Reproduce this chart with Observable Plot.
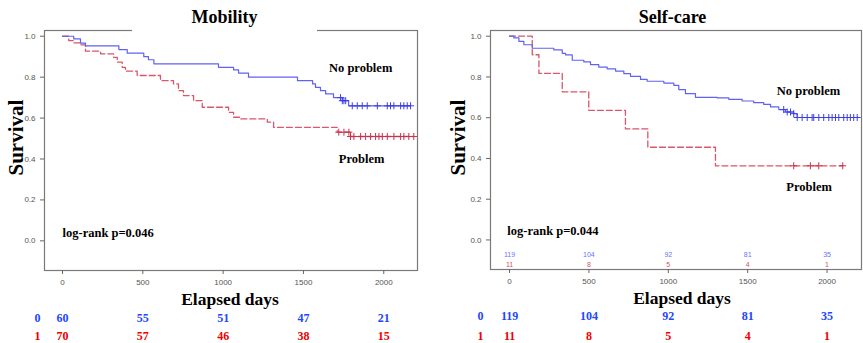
<!DOCTYPE html>
<html><head><meta charset="utf-8">
<script src="https://cdn.jsdelivr.net/npm/d3@7"></script>
<script src="https://cdn.jsdelivr.net/npm/@observablehq/plot@0.6"></script>
<style>
body{margin:0;background:#fff;}
#wrap{position:relative;width:863px;height:343px;overflow:hidden;background:#fff;}
.panel{position:absolute;top:0;}
.title{position:absolute;font-family:"Liberation Serif","Times New Roman",serif;font-weight:bold;font-size:18px;text-align:center;line-height:26px;color:#000;z-index:2;}
</style></head><body><div id="wrap"></div>
<script>
// ---------- data ----------
const riskTicks = [0, 500, 1000, 1500, 2000];
const yTicks = [0, 0.2, 0.4, 0.6, 0.8, 1.0];

// Mobility – No problem (group 0)
const mobNoDays = [0,70,112,143,351,403,506,535,569,971,1065,1096,1158,1463,1557,1575,1606,1638,1687,1742,1781,2167];
const mobNoSurv = [1.0,0.987,0.966,0.953,0.935,0.917,0.90,0.885,0.865,0.848,0.836,0.82,0.80,0.783,0.767,0.75,0.734,0.718,0.70,0.685,0.66,0.66];
const mobNoCensor = [1731,1742,1752,1763,1804,1835,1866,1897,1960,2022,2042,2063,2105,2125,2146,2167];
// Mobility – Problem (group 1)
const mobProbDays = [0,39,70,108,143,237,318,341,372,392,465,610,691,722,753,816,870,1034,1065,1108,1275,1314,1710,1793,2187];
const mobProbSurv = [1.0,0.979,0.968,0.958,0.927,0.914,0.897,0.873,0.848,0.829,0.808,0.783,0.767,0.734,0.71,0.685,0.653,0.628,0.604,0.596,0.58,0.555,0.531,0.51,0.51];
const mobProbCensor = [1720,1752,1783,1793,1814,1856,1887,1918,1949,1970,1991,2022,2063,2105,2125,2156,2187];
const mobRisk0 = [60, 55, 51, 47, 21];
const mobRisk1 = [70, 57, 46, 38, 15];

// Self-care – No problem (group 0)
const scNoDays = [0,27,59,90,143,279,332,353,395,468,510,562,615,668,720,762,825,867,972,1035,1066,1108,1171,1308,1381,1465,1538,1601,1644,1696,1738,1790,1812,2190];
const scNoSurv = [1.0,0.992,0.975,0.958,0.941,0.933,0.916,0.908,0.882,0.874,0.861,0.848,0.84,0.829,0.816,0.803,0.788,0.779,0.77,0.759,0.738,0.718,0.70,0.697,0.69,0.682,0.674,0.665,0.653,0.64,0.628,0.62,0.601,0.601];
const scNoCensor = [1727,1749,1770,1790,1812,1843,1875,1906,1916,1948,1979,2011,2032,2053,2074,2105,2127,2147,2168,2190];
// Self-care – Problem (group 1)
const scProbDays = [0,143,185,332,499,730,871,1297,2099];
const scProbSurv = [1.0,0.909,0.818,0.727,0.636,0.545,0.455,0.364,0.364];
const scProbCensor = [1790,1895,1948,2099];
const scRisk0 = [119, 104, 92, 81, 35];
const scRisk1 = [11, 8, 5, 4, 1];

// ---------- helpers ----------
const serif = "Liberation Serif, Times New Roman, serif";
const rows = (days, surv) => days.map((d, i) => ({day: d, s: surv[i]}));
const stepAt = (days, surv, t) => { let v = surv[0]; for (let i = 0; i < days.length; i++) if (days[i] <= t) v = surv[i]; return v; };
const cens = (days, surv, c) => c.map(t => ({day: t, s: stepAt(days, surv, t)}));
const risk = (arr) => riskTicks.map((t, i) => ({day: t, n: String(arr[i])}));

function panel(o) {
  const blue = "#6262f2", red = "#d9566b";
  const marks = [
    Plot.frame({stroke: "#7a7a7a", strokeWidth: 1.2}),
    Plot.axisY({ticks: yTicks, tickFormat: d3.format(".1f"), tickSize: 4, label: null, stroke: "#666"}),
    Plot.axisX({ticks: riskTicks, tickFormat: d3.format("d"), tickSize: 4, label: null, stroke: "#666"}),
    Plot.line(rows(o.d1, o.s1), {x: "day", y: "s", curve: "step-after", stroke: red, strokeWidth: 1.3, strokeDasharray: "6,3"}),
    Plot.line(rows(o.d0, o.s0), {x: "day", y: "s", curve: "step-after", stroke: blue, strokeWidth: 1.2}),
    Plot.dot(cens(o.d1, o.s1, o.c1), {x: "day", y: "s", symbol: "plus", r: 2.4, stroke: "#c8324c", strokeWidth: 1}),
    Plot.dot(cens(o.d0, o.s0, o.c0), {x: "day", y: "s", symbol: "plus", r: 2.4, stroke: "#3e3ee6", strokeWidth: 1}),
    Plot.text([o.logrank], {x: o.lrX, y: o.lrY, text: d => d, textAnchor: "start", fontFamily: serif, fontWeight: "bold", fontSize: 12.5, fill: "#000"}),
    Plot.text(["No problem"], {x: o.noX, y: o.noY, text: d => d, fontFamily: serif, fontWeight: "bold", fontSize: 12.5, fill: "#000"}),
    Plot.text(["Problem"], {x: o.prX, y: o.prY, text: d => d, fontFamily: serif, fontWeight: "bold", fontSize: 12.5, fill: "#000"}),
    Plot.text(["Survival"], {frameAnchor: "left", text: d => d, rotate: -90, dx: o.survDx, dy: o.survDy, fontFamily: serif, fontWeight: "bold", fontSize: 21, fill: "#000"}),
    Plot.text(["Elapsed days"], {frameAnchor: "bottom", text: d => d, dx: o.elDx, dy: o.elDy, fontFamily: serif, fontWeight: "bold", fontSize: 17.5, fill: "#000"}),
    Plot.text(risk(o.r0), {x: "day", text: "n", frameAnchor: "bottom", dy: o.row0Dy, fontFamily: serif, fontWeight: "bold", fontSize: 12, fill: "#2246ff"}),
    Plot.text(risk(o.r1), {x: "day", text: "n", frameAnchor: "bottom", dy: o.row1Dy, fontFamily: serif, fontWeight: "bold", fontSize: 12, fill: "#f00000"}),
    Plot.text(["0"], {x: () => riskTicks[0], text: d => d, frameAnchor: "bottom", dx: o.rowLabDx, dy: o.row0Dy, fontFamily: serif, fontWeight: "bold", fontSize: 12, fill: "#2246ff"}),
    Plot.text(["1"], {x: () => riskTicks[0], text: d => d, frameAnchor: "bottom", dx: o.rowLabDx, dy: o.row1Dy, fontFamily: serif, fontWeight: "bold", fontSize: 12, fill: "#f00000"})
  ];
  if (o.inner) {
    marks.push(Plot.text(risk(o.r0), {x: "day", text: "n", frameAnchor: "bottom", dy: -12.7, fontSize: 7, fill: "#7070ff"}));
    marks.push(Plot.text(risk(o.r1), {x: "day", text: "n", frameAnchor: "bottom", dy: -2.7, fontSize: 7, fill: "#d05468"}));
  }
  return Plot.plot({
    width: o.width, height: 343,
    marginLeft: o.ml, marginRight: o.mr, marginTop: 30, marginBottom: o.mb,
    x: {domain: o.xDomain},
    y: {domain: [-0.145, 1.028]},
    style: {fontFamily: "Liberation Sans, Arial, sans-serif", fontSize: "8px", color: "#555", background: "transparent", overflow: "visible"},
    marks
  });
}

const wrap = document.getElementById("wrap");
const left = panel({
  d0: mobNoDays, s0: mobNoSurv, c0: mobNoCensor, d1: mobProbDays, s1: mobProbSurv, c1: mobProbCensor,
  r0: mobRisk0, r1: mobRisk1, width: 430, ml: 44, mr: 13, mb: 73, xDomain: [-112, 2210],
  logrank: "log-rank p=0.046", lrX: 0, lrY: 0.037, noX: 1856, noY: 0.847, prX: 1862, prY: 0.402,
  survDx: -28, survDy: 25, elDx: -1, elDy: 34, row0Dy: 51, row1Dy: 69.5, rowLabDx: -25, inner: false
});
left.classList.add("panel"); left.style.left = "0px";
const right = panel({
  d0: scNoDays, s0: scNoSurv, c0: scNoCensor, d1: scProbDays, s1: scProbSurv, c1: scProbCensor,
  r0: scRisk0, r1: scRisk1, width: 433, ml: 60, mr: 2, mb: 74, xDomain: [-120, 2217],
  logrank: "log-rank p=0.044", lrX: -14, lrY: 0.042, noX: 1883, noY: 0.730, prX: 1887, prY: 0.262,
  survDx: -32, survDy: 25.5, elDx: 6, elDy: 34, row0Dy: 50, row1Dy: 70, rowLabDx: -29, inner: true
});
right.classList.add("panel"); right.style.left = "430px";
wrap.appendChild(left);
wrap.appendChild(right);

const t1 = document.createElement("div");
t1.className = "title"; t1.textContent = "Mobility";
Object.assign(t1.style, {left: "132px", width: "185px", top: "4px", height: "28px", background: "#fff"});
const t2 = document.createElement("div");
t2.className = "title"; t2.textContent = "Self-care";
Object.assign(t2.style, {left: "600px", width: "145px", top: "4px", height: "24px"});
wrap.appendChild(t1); wrap.appendChild(t2);
</script></body></html>
